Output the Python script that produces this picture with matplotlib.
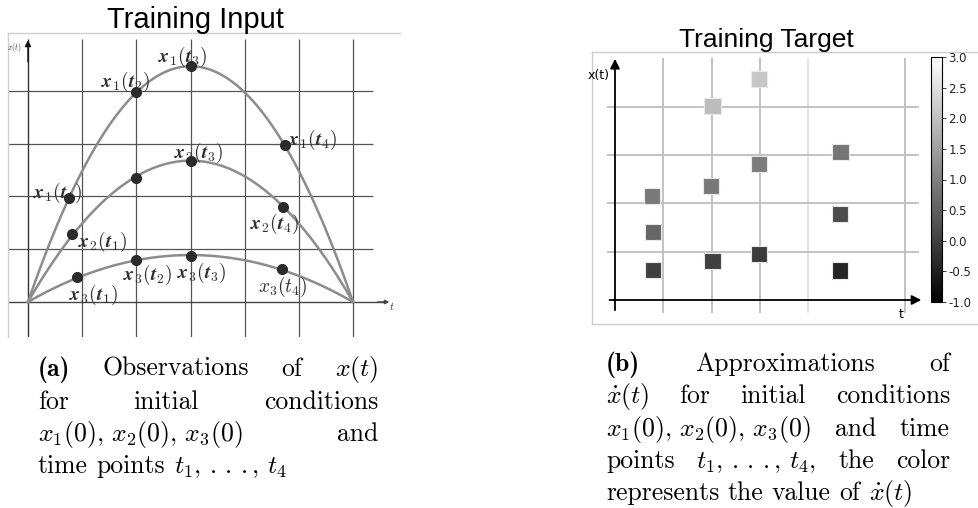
import numpy as np
import matplotlib
matplotlib.use("Agg")
import matplotlib.pyplot as plt

plt.rcParams['mathtext.fontset'] = 'cm'
plt.rcParams['axes.unicode_minus'] = True

# ---------------- data ----------------
# Training input: sample points of three trajectories
x1_t = [0.76, 2.0, 3.0, 4.74]
x1_v = [1.98, 3.98, 4.47, 2.97]
x2_t = [0.82, 2.0, 3.0, 4.71]
x2_v = [1.28, 2.36, 2.68, 1.81]
x3_t = [0.90, 2.0, 3.0, 4.68]
x3_v = [0.47, 0.79, 0.87, 0.62]
curve_peaks = [4.47, 2.68, 0.89]   # peak heights of the three arcs (at t=3)
curve_end = 6.0

point_labels = [r"$\mathbfit{x}_\mathbf{1}(\mathbfit{t}_\mathbf{3})$",
                r"$\mathbfit{x}_\mathbf{1}(\mathbfit{t}_\mathbf{2})$",
                r"$\mathbfit{x}_\mathbf{1}(\mathbfit{t}_\mathbf{4})$",
                r"$\mathbfit{x}_\mathbf{2}(\mathbfit{t}_\mathbf{3})$",
                r"$\mathbfit{x}_\mathbf{1}(\mathbfit{t}_\mathbf{1})$",
                r"$\mathbfit{x}_\mathbf{2}(\mathbfit{t}_\mathbf{1})$",
                r"$\mathbfit{x}_\mathbf{2}(\mathbfit{t}_\mathbf{4})$",
                r"$\mathbfit{x}_\mathbf{3}(\mathbfit{t}_\mathbf{2})$",
                r"$\mathbfit{x}_\mathbf{3}(\mathbfit{t}_\mathbf{3})$",
                r"$x_3(t_4)$",
                r"$\mathbfit{x}_\mathbf{3}(\mathbfit{t}_\mathbf{1})$"]
label_t = [2.86, 1.81, 5.26, 3.14, 0.54, 1.38, 4.56, 2.20, 3.21, 4.71, 1.22]
label_y = [4.64, 4.17, 3.07, 2.82, 2.07, 1.14, 1.48, 0.51, 0.55, 0.28, 0.13]

# Training target: approximated derivatives
target_t = [0.77, 0.78, 0.78, 2.02, 1.99, 2.02, 2.99, 2.99, 2.99, 4.67, 4.65, 4.66]
target_y = [2.16, 1.40, 0.62, 4.02, 2.36, 0.81, 4.58, 2.81, 0.95, 3.06, 1.78, 0.61]
target_v = [0.90, 0.60, 0.00, 1.95, 0.90, 0.00, 2.10, 0.95, -0.05, 0.85, 0.20, -0.40]
cbar_ticks = [-1.0, -0.5, 0.0, 0.5, 1.0, 1.5, 2.0, 2.5, 3.0]

W, H = 979, 508
fig = plt.figure(figsize=(W / 100, H / 100), dpi=100)


def fx(px):
    return px / W


def fy(py):
    return 1 - py / H


# ---------------- left panel ----------------
ax1 = fig.add_axes([fx(8), fy(337), 392 / W, 304 / H])
ax1.set_xlim(-0.369, 6.867)
ax1.set_ylim(-0.664, 5.10)
ax1.set_xticks([]); ax1.set_yticks([])
for s in ['right', 'bottom']:
    ax1.spines[s].set_visible(False)
for s in ['top', 'left']:
    ax1.spines[s].set_color('#d0d0d0')
    ax1.spines[s].set_linewidth(1.0)

grid_c = '#555555'
ax1.vlines([1, 2, 3, 4, 5, 6], -0.664, 4.98, color=grid_c, lw=0.9, zorder=1)
ax1.hlines([1, 2, 3, 4], -0.369, 6.37, color=grid_c, lw=0.9, zorder=1)
ax1.vlines([0], -0.664, 4.98, color='#333333', lw=1.0, zorder=1)
ax1.annotate('', xy=(0, 5.02), xytext=(0, 4.5),
             arrowprops=dict(arrowstyle='-|>', color='#111111', lw=1.0, mutation_scale=9))
ax1.hlines([0], -0.369, 6.6, color='#444444', lw=1.0, zorder=1)
ax1.annotate('', xy=(6.72, 0), xytext=(6.4, 0),
             arrowprops=dict(arrowstyle='-|>', color='#444444', lw=1.0, mutation_scale=6))
ax1.text(-0.26, 4.83, r'$x(t)$', fontsize=5.5, ha='center', va='center', color='#333333')
ax1.text(6.72, -0.08, r'$t$', fontsize=8, ha='center', va='center', color='#333333')

tt = np.linspace(0, curve_end, 300)
for pk in curve_peaks:
    ax1.plot(tt, pk * (1 - ((tt - curve_end / 2) / (curve_end / 2)) ** 2),
             color='#8c8c8c', lw=1.8, zorder=2)
for ts, vs in [(x1_t, x1_v), (x2_t, x2_v), (x3_t, x3_v)]:
    ax1.plot(ts, vs, 'o', color='#2b2b2b', ms=7, zorder=3)
for lab, lt, ly in zip(point_labels, label_t, label_y):
    ax1.text(lt, ly, lab, fontsize=14, ha='center', va='center', color='#2e2e2e', zorder=4)

fig.text(fx(195), fy(28), 'Training Input', fontsize=21, family='Liberation Sans',
         ha='center', va='baseline')

# ---------------- right panel ----------------
ax2 = fig.add_axes([fx(592), fy(324), 387 / W, 272 / H])
ax2.set_xlim(-0.476, 7.536)
ax2.set_ylim(-0.497, 5.135)
ax2.set_xticks([]); ax2.set_yticks([])
ax2.spines['right'].set_visible(False)
for s in ['top', 'left', 'bottom']:
    ax2.spines[s].set_color('#cccccc')
    ax2.spines[s].set_linewidth(1.0)

ax2.vlines([1, 2, 3, 6], -0.27, 5.01, color='#bdbdbd', lw=1.3, zorder=1)
ax2.vlines([4], -0.27, 5.01, color='#e2e2e2', lw=1.3, zorder=1)
ax2.hlines([1, 2, 3, 4], -0.17, 6.29, color='#bdbdbd', lw=1.3, zorder=1)
ax2.annotate('', xy=(0, 5.05), xytext=(0, -0.27),
             arrowprops=dict(arrowstyle='-|>', color='black', lw=1.3, mutation_scale=14))
ax2.annotate('', xy=(6.4, 0), xytext=(-0.17, 0),
             arrowprops=dict(arrowstyle='-|>', color='black', lw=1.3, mutation_scale=14))
ax2.text(-0.34, 4.64, 'x(t)', fontsize=9, ha='center', va='center')
ax2.text(5.92, -0.30, 't', fontsize=9, ha='center', va='center')

sc = ax2.scatter(target_t, target_y, c=target_v, cmap='gray', vmin=-1, vmax=3,
                 marker='s', s=135, edgecolors='#e8e8e8', linewidths=0.8, zorder=3)

cax = fig.add_axes([fx(931), fy(302), 11 / W, 245 / H])
cb = fig.colorbar(sc, cax=cax, ticks=cbar_ticks, format='%.1f')
cb.outline.set_edgecolor('black')
cb.outline.set_linewidth(0.8)
cax.tick_params(labelsize=8.5, length=3, width=0.6, colors='#222222', pad=1.5)

fig.text(fx(766), fy(47), 'Training Target', fontsize=19, family='Liberation Sans',
         ha='center', va='baseline')

# ---------------- captions ----------------
FS = 18.5
renderer = fig.canvas.get_renderer()


def place_line(words, x0, x1, ybase, justify=True):
    objs = []
    for w, fam in words:
        t = fig.text(fx(x0), fy(ybase), w, fontsize=FS, family=fam, ha='left', va='baseline')
        objs.append(t)
    widths = [o.get_window_extent(renderer).width for o in objs]
    if justify and len(objs) > 1:
        gap = (x1 - x0 - sum(widths)) / (len(objs) - 1)
    else:
        gap = 0.33 * FS * 100 / 72
    x = x0
    for o, w in zip(objs, widths):
        o.set_x(fx(x))
        x += w + gap


R, B = 'cmr10', 'cmb10'
dots = r'.\,.\,.'
cap_a = [
    ([('(a)', B), ('Observations', R), ('of', R), (r'$x(t)$', R)], True, 376),
    ([('for', R), ('initial', R), ('conditions', R)], True, 409),
    ([(r'$x_1(0),\, x_2(0),\, x_3(0)$', R), ('and', R)], True, 441),
    ([('time', R), ('points', R), (r'$t_1,\,' + dots + r',\,t_4$', R)], False, 473),
]
for words, just, yb in cap_a:
    place_line(words, 38, 378, yb, just)

cap_b = [
    ([('(b)', B), ('Approximations', R), ('of', R)], True, 371),
    ([(r'$\dot{x}(t)$', R), ('for', R), ('initial', R), ('conditions', R)], True, 403),
    ([(r'$x_1(0),\, x_2(0),\, x_3(0)$', R), ('and', R), ('time', R)], True, 436),
    ([('points', R), (r'$t_1,\,' + dots + r',\,t_4,$', R), ('the', R), ('color', R)], True, 468),
    ([('represents', R), ('the', R), ('value', R), ('of', R), (r'$\dot{x}(t)$', R)], False, 500),
]
for words, just, yb in cap_b:
    place_line(words, 606, 950, yb, just)

fig.savefig('out.png', dpi=100)
